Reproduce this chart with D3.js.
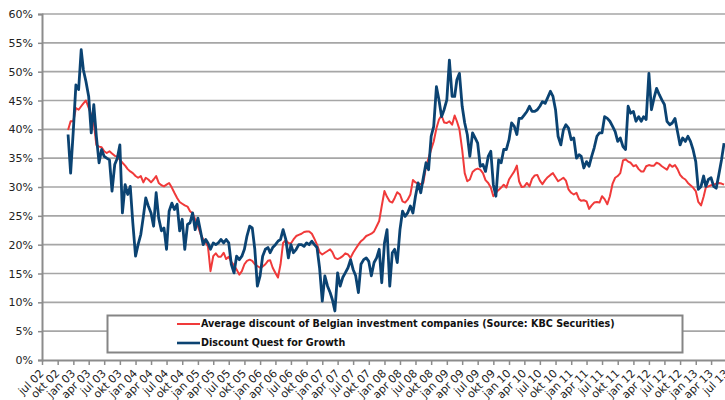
<!DOCTYPE html>
<html>
<head>
<meta charset="utf-8">
<script src="https://cdn.jsdelivr.net/npm/d3@7"></script>
<style>
  body { margin: 0; background: #fff; }
  svg { display: block; font-family: "DejaVu Sans", Verdana, sans-serif; }
</style>
</head>
<body>
<svg id="chart" width="725" height="400"></svg>
<script>
// semi-monthly readings (1st and 16th of each month), in %
const red02 = [39.9, 41.4]
const red03 = [41.4, 43.7, 43.4, 44.0, 44.5, 45.0, 43.7, 42.5, 41.1, 37.3, 37.0, 36.9, 36.2, 35.9, 36.2, 35.8, 35.4, 35.3, 34.7, 34.2, 33.7, 33.1, 32.7, 32.4]
const red04 = [31.9, 31.6, 31.9, 30.8, 31.6, 31.3, 30.8, 31.3, 31.9, 30.7, 30.3, 30.1, 30.4, 30.7, 29.9, 29.0, 28.1, 27.4, 27.1, 26.8, 26.6, 25.8, 25.4, 24.4]
const red05 = [23.2, 21.9, 20.9, 20.4, 19.7, 15.4, 18.0, 18.5, 17.9, 17.9, 18.6, 17.5, 17.9, 17.0, 16.4, 15.7, 14.8, 15.4, 16.6, 17.2, 17.4, 17.2, 16.6, 16.3]
const red06 = [16.0, 16.2, 16.6, 17.2, 17.3, 16.0, 15.1, 14.3, 16.6, 20.3, 20.8, 20.3, 20.2, 20.9, 21.5, 21.7, 21.9, 22.2, 22.3, 22.3, 21.9, 21.0, 20.0, 18.7]
const red07 = [18.3, 18.6, 18.9, 19.2, 18.7, 17.7, 17.5, 17.7, 18.0, 18.5, 18.3, 17.7, 18.6, 19.3, 20.0, 20.6, 21.0, 21.5, 21.7, 21.9, 22.3, 23.2, 24.1, 26.7]
const red08 = [29.3, 28.3, 27.5, 27.3, 28.1, 29.1, 28.7, 27.5, 27.3, 27.8, 28.7, 31.2, 30.8, 30.6, 30.5, 30.7, 33.6, 35.0, 36.5, 37.9, 40.2, 41.7, 42.4, 41.2]
const red09 = [41.1, 41.4, 40.8, 42.4, 41.4, 40.0, 36.5, 32.4, 31.0, 31.3, 32.6, 33.0, 33.2, 33.0, 32.4, 31.2, 30.7, 29.9, 28.4, 29.0, 29.5, 29.9, 30.4, 29.9]
const red10 = [31.3, 32.0, 32.7, 33.7, 31.0, 30.0, 30.1, 30.7, 30.1, 31.4, 32.0, 32.1, 31.1, 30.5, 31.2, 31.7, 32.1, 32.4, 31.7, 31.0, 31.3, 31.6, 31.1, 29.6]
const red11 = [29.0, 28.7, 29.0, 27.9, 27.6, 27.7, 27.5, 26.2, 26.8, 27.3, 27.4, 27.3, 28.4, 27.9, 27.0, 28.4, 30.6, 31.6, 31.9, 32.4, 34.6, 34.8, 34.4, 34.2]
const red12 = [33.6, 33.8, 33.1, 32.7, 32.7, 33.6, 33.8, 33.7, 33.7, 34.2, 34.0, 33.6, 33.3, 33.0, 33.9, 33.5, 33.8, 33.1, 32.1, 31.6, 31.3, 30.7, 30.3, 29.9]
const red13 = [29.3, 27.4, 26.8, 28.3, 29.9, 30.1, 30.3, 30.4, 30.6, 30.7, 30.6, 30.4]

const blue02 = [39.1, 32.4]
const blue03 = [39.9, 47.7, 46.9, 53.8, 50.3, 48.3, 45.7, 39.4, 44.3, 38.8, 34.2, 36.5, 35.3, 35.0, 34.7, 29.3, 33.9, 35.0, 37.3, 25.5, 30.4, 28.7, 30.1, 23.8]
const blue04 = [18.0, 20.0, 21.8, 24.9, 28.1, 26.7, 25.5, 23.2, 29.0, 24.6, 22.4, 22.9, 19.2, 25.8, 27.2, 26.1, 27.0, 22.4, 24.4, 19.2, 23.5, 23.8, 25.5, 22.6]
const blue05 = [24.6, 22.4, 20.0, 20.9, 20.3, 19.2, 20.3, 20.0, 20.3, 20.9, 20.3, 20.9, 20.3, 16.6, 15.1, 18.0, 17.4, 18.0, 19.2, 21.5, 23.2, 22.9, 19.2, 12.8]
const blue06 = [14.6, 18.0, 19.2, 19.5, 18.6, 19.5, 20.0, 20.6, 20.9, 22.6, 20.9, 17.7, 20.0, 18.6, 19.2, 20.0, 20.0, 19.7, 20.3, 20.0, 20.6, 20.0, 19.5, 16.0]
const blue07 = [10.2, 14.6, 12.8, 11.7, 10.5, 8.5, 15.1, 12.8, 14.3, 15.1, 16.0, 17.4, 15.7, 14.6, 11.7, 16.6, 17.4, 17.7, 17.1, 14.6, 16.9, 17.7, 19.2, 13.4]
const blue08 = [20.3, 22.6, 12.8, 18.6, 19.2, 16.9, 22.6, 25.8, 24.9, 25.5, 26.7, 25.5, 28.4, 30.7, 29.0, 31.6, 34.2, 33.0, 38.8, 40.5, 47.4, 45.1, 42.2, 43.4]
const blue09 = [45.1, 52.0, 45.7, 45.7, 48.6, 49.7, 44.0, 41.1, 39.1, 35.3, 39.4, 38.5, 37.6, 33.6, 33.9, 32.7, 35.3, 36.2, 30.4, 28.4, 34.7, 34.2, 36.5, 36.5]
const blue10 = [38.2, 41.1, 40.5, 39.1, 41.9, 41.9, 42.5, 43.1, 44.0, 43.1, 43.1, 43.4, 44.0, 44.8, 44.5, 45.5, 46.6, 45.7, 43.4, 38.8, 37.3, 39.9, 40.8, 40.2]
const blue11 = [38.2, 38.5, 35.0, 35.6, 35.3, 33.3, 34.4, 33.6, 35.3, 36.8, 38.8, 39.4, 39.4, 42.2, 41.9, 41.4, 40.5, 39.6, 37.9, 38.5, 37.0, 36.5, 44.0, 42.8]
const blue12 = [43.1, 41.4, 42.2, 41.4, 42.2, 41.7, 49.7, 43.4, 45.4, 47.1, 46.0, 45.1, 44.3, 41.4, 40.8, 41.1, 41.9, 39.6, 37.3, 38.5, 37.9, 38.8, 37.9, 36.5]
const blue13 = [34.4, 29.6, 30.1, 31.9, 30.1, 31.3, 31.6, 30.1, 29.8, 32.1, 34.7, 37.6]

const seriesNames = [
    'Average discount of Belgian investment companies (Source: KBC Securities)',
    'Discount Quest for Growth'
]
const quarterNames = ['jan', 'apr', 'jul', 'okt']
const yTicks = [0, 5, 10, 15, 20, 25, 30, 35, 40, 45, 50, 55, 60]

const red = [].concat(red02, red03, red04, red05, red06, red07, red08, red09, red10, red11, red12, red13)
const blue = [].concat(blue02, blue03, blue04, blue05, blue06, blue07, blue08, blue09, blue10, blue11, blue12, blue13)

// first reading is 1 Dec 2002, then every 1st and 16th
const dateAt = (i) => new Date(2002, 11 + Math.floor(i / 2), i % 2 ? 16 : 1)

const svg = d3.select('#chart')

const x = d3.scaleTime()
    .domain([new Date(2002, 6, 1), new Date(2013, 6, 1)])
    .range([42, 726.6])
const y = d3.scaleLinear()
    .domain([0, 60])
    .range([360, 14])

// gridlines
svg.append('g')
    .selectAll('line')
    .data(yTicks.slice(1))
    .enter()
    .append('line')
    .attr('x1', 42).attr('x2', 725)
    .attr('y1', d => y(d)).attr('y2', d => y(d))
    .attr('stroke', '#a6a6a6')
    .attr('stroke-width', 1.6)

// y axis
const yAxis = svg.append('g')
    .attr('transform', 'translate(42,0)')
    .call(d3.axisLeft(y).tickValues(yTicks).tickSize(4).tickFormat(d => d + '%'))
yAxis.select('.domain').attr('stroke', '#8c8c8c').attr('stroke-width', 2)
yAxis.selectAll('.tick line').attr('stroke', '#8c8c8c').attr('stroke-width', 1.5)
yAxis.selectAll('.tick text')
    .attr('x', -9)
    .attr('font-size', 11)
    .attr('font-family', '"DejaVu Sans", Verdana, sans-serif')
    .attr('fill', '#222')

// x axis, quarterly ticks
const quarters = d3.timeMonth.every(3).range(new Date(2002, 6, 1), new Date(2013, 6, 2))
const qLabel = (d) => quarterNames[Math.floor(d.getMonth() / 3)] + ' ' + String(d.getFullYear()).slice(2)

const xAxis = svg.append('g')
    .attr('transform', 'translate(0,360)')
    .call(d3.axisBottom(x).tickValues(quarters).tickSize(5).tickSizeOuter(0).tickFormat(qLabel))
xAxis.select('.domain').attr('stroke', '#8c8c8c').attr('stroke-width', 2)
xAxis.selectAll('.tick line').attr('stroke', '#8c8c8c').attr('stroke-width', 1.5)
xAxis.selectAll('.tick text')
    .attr('font-size', 11)
    .attr('font-family', '"DejaVu Sans", Verdana, sans-serif')
    .attr('fill', '#222')
    .attr('text-anchor', 'end')
    .attr('y', 0)
    .attr('dy', 0)
    .attr('transform', 'translate(2,14) rotate(-45)')

// series
const line = d3.line()
    .x((d, i) => x(dateAt(i)))
    .y(d => y(d))

svg.append('path')
    .datum(red)
    .attr('fill', 'none')
    .attr('stroke', '#f03a3a')
    .attr('stroke-width', 2)
    .attr('stroke-linejoin', 'round')
    .attr('d', line)

svg.append('path')
    .datum(blue)
    .attr('fill', 'none')
    .attr('stroke', '#0b4372')
    .attr('stroke-width', 2.8)
    .attr('stroke-linejoin', 'round')
    .attr('d', line)

// legend
const legend = svg.append('g')
legend.append('rect')
    .attr('x', 107.5).attr('y', 315.5)
    .attr('width', 575).attr('height', 37)
    .attr('fill', '#fff')
    .attr('stroke', '#858585')
    .attr('stroke-width', 2)

const legendColors = ['#f03a3a', '#0b4372']
seriesNames.forEach((name, i) => {
    const ly = 324 + i * 19
    legend.append('line')
        .attr('x1', 177).attr('x2', 200)
        .attr('y1', ly).attr('y2', ly)
        .attr('stroke', legendColors[i])
        .attr('stroke-width', i ? 2.6 : 2)
    legend.append('text')
        .attr('x', 201).attr('y', ly)
        .attr('dy', '0.35em')
        .attr('font-size', 9.6)
        .attr('font-weight', 'bold')
        .attr('fill', '#111')
        .text(name)
})
</script>
</body>
</html>
